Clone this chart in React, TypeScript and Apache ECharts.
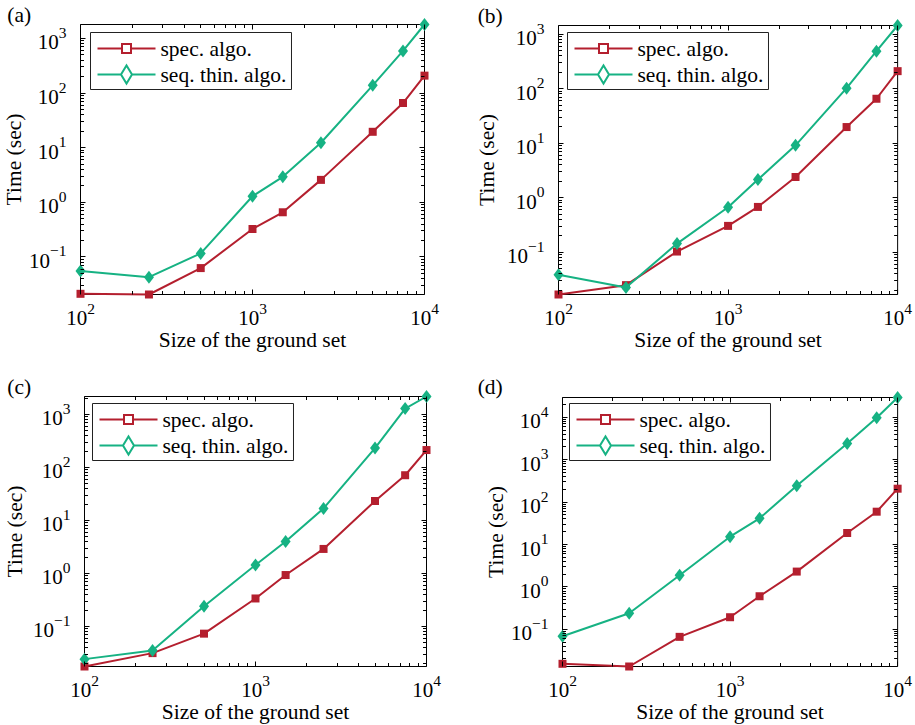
import React, { useEffect, useRef } from 'react';
import * as echarts from 'echarts';

// ---------- data ----------
const sizes = [100, 250, 500, 1000, 1500, 2500, 5000, 7500, 10000];

const specA = [0.0211, 0.0205, 0.0624, 0.324, 0.656, 2.57, 19.5, 65.6, 208];
const seqA = [0.055, 0.0426, 0.116, 1.29, 2.92, 12.3, 138, 590, 1795];

const specB = [0.0167, 0.0248, 0.1025, 0.303, 0.675, 2.39, 19.7, 65.1, 209];
const seqB = [0.0383, 0.0225, 0.1436, 0.665, 2.14, 9.1, 102, 486, 1437];

const specC = [0.0175, 0.0313, 0.0729, 0.336, 0.93, 2.89, 23.2, 71, 212];
const seqC = [0.0241, 0.0352, 0.24, 1.44, 3.98, 16.8, 231, 1285, 2170];

const specD = [0.0154, 0.0133, 0.0665, 0.193, 0.603, 2.3, 18.7, 59.4, 207];
const seqD = [0.0689, 0.24, 1.88, 15.3, 41.4, 243, 2415, 9710, 29240];

const panelLabels = ['(a)', '(b)', '(c)', '(d)'];
const seriesNames = ['spec. algo.', 'seq. thin. algo.'];
const xAxisName = 'Size of the ground set';
const yAxisName = 'Time (sec)';

// ---------- styling / layout ----------
const FONT = "'Liberation Serif', 'DejaVu Serif', serif";
const RED = '#b41f2e';
const GREEN = '#16b283';
const NAME_SIZE = 21.5;

const panels = [
  { spec: specA, seq: seqA, grid: { left: 80.5, top: 24.5, width: 344, height: 270 }, yGap: 55, legend: { left: 90.5, top: 32.5 }, label: [7.3, 15] },
  { spec: specB, seq: seqB, grid: { left: 558.5, top: 25.5, width: 342, height: 269 }, yGap: 61, legend: { left: 567.5, top: 32.5 }, label: [477.7, 15.5] },
  { spec: specC, seq: seqC, grid: { left: 84.5, top: 396.5, width: 342, height: 270 }, yGap: 59, legend: { left: 92.5, top: 403.5 }, label: [7.3, 386.5] },
  { spec: specD, seq: seqD, grid: { left: 562.5, top: 397.5, width: 341, height: 269 }, yGap: 54.6, legend: { left: 569.5, top: 403.5 }, label: [477.7, 386.5] },
];

const specIcon = 'path://M0,10L24.5,10M24.5,5.5L33.5,5.5L33.5,14.5L24.5,14.5ZM33.5,10L58,10';
const seqIcon = 'path://M0,10L23.5,10M23.5,10L29,1L34.5,10L29,19ZM34.5,10L58,10';

const powLabel = (v: number) => {
  const e = Math.round(Math.log10(v));
  if (Math.abs(v / Math.pow(10, e) - 1) > 1e-6) return '';
  return `{b|10}{s|${e < 0 ? '\u2212' + -e : e}}`;
};

const labelRich = {
  b: { fontSize: 21, lineHeight: 36, fontFamily: FONT, color: '#000', verticalAlign: 'middle' },
  s: { fontSize: 15.5, lineHeight: 14, fontFamily: FONT, color: '#000', verticalAlign: 'top' },
};

// tick positions (major = power of ten, minor = 2..9 x power of ten) within [lo, hi]
const logTickValues = (lo: number, hi: number) => {
  const vals: [number, boolean][] = [];
  for (let k = Math.floor(Math.log10(lo)); k <= Math.ceil(Math.log10(hi)); k++) {
    for (let m = 1; m <= 9; m++) {
      const v = m * Math.pow(10, k);
      if (v >= lo * (1 - 1e-9) && v <= hi * (1 + 1e-9)) vals.push([v, m === 1]);
    }
  }
  return vals;
};

const extents = panels.map((p) => ({
  xMin: Math.min(...sizes),
  xMax: Math.max(...sizes),
  yMin: Math.min(...p.spec, ...p.seq),
  yMax: Math.max(...p.spec, ...p.seq),
}));

function buildOption() {
  const grid: any[] = [];
  const xAxis: any[] = [];
  const yAxis: any[] = [];
  const series: any[] = [];
  const legend: any[] = [];

  panels.forEach((p, i) => {
    const { xMin, xMax, yMin, yMax } = extents[i];

    grid.push({ ...p.grid, show: true, borderColor: '#000', borderWidth: 1, backgroundColor: 'transparent' });

    xAxis.push({
      type: 'log', logBase: 10, gridIndex: i, min: xMin, max: xMax,
      name: xAxisName, nameLocation: 'middle', nameGap: 34,
      nameTextStyle: { fontSize: NAME_SIZE, fontFamily: FONT, color: '#000' },
      axisLine: { show: false }, axisTick: { show: false }, splitLine: { show: false },
      axisLabel: { formatter: powLabel, rich: labelRich, margin: 5.5, color: '#000' },
    });
    yAxis.push({
      type: 'log', logBase: 10, gridIndex: i, min: yMin, max: yMax,
      name: yAxisName, nameLocation: 'middle', nameGap: p.yGap,
      nameTextStyle: { fontSize: NAME_SIZE, fontFamily: FONT, color: '#000' },
      axisLine: { show: false }, axisTick: { show: false }, splitLine: { show: false },
      axisLabel: { formatter: powLabel, rich: labelRich, margin: 14, padding: [8, 0, 0, 0], color: '#000' },
    });

    series.push({
      type: 'line', name: seriesNames[0], xAxisIndex: i, yAxisIndex: i,
      data: sizes.map((s, j) => [s, p.spec[j]]),
      symbol: 'rect', symbolSize: 8, clip: false,
      lineStyle: { color: RED, width: 2 }, itemStyle: { color: RED }, z: 3,
    });
    series.push({
      type: 'line', name: seriesNames[1], xAxisIndex: i, yAxisIndex: i,
      data: sizes.map((s, j) => [s, p.seq[j]]),
      symbol: 'diamond', symbolSize: [10, 13], clip: false,
      lineStyle: { color: GREEN, width: 2 }, itemStyle: { color: GREEN }, z: 4,
    });

    legend.push({
      ...p.legend, orient: 'vertical', itemWidth: 58, itemHeight: 20, itemGap: 4,
      padding: [5, 5, 4, 6], borderColor: '#222', borderWidth: 1, backgroundColor: '#fff',
      symbolKeepAspect: true, selectedMode: false,
      textStyle: { fontSize: NAME_SIZE, fontFamily: FONT, color: '#000' },
      data: [
        { name: seriesNames[0], icon: specIcon, itemStyle: { color: '#fff', borderColor: RED, borderWidth: 2 } },
        { name: seriesNames[1], icon: seqIcon, itemStyle: { color: '#fff', borderColor: GREEN, borderWidth: 2 } },
      ],
    });
  });

  return {
    animation: false,
    backgroundColor: '#fff',
    textStyle: { fontFamily: FONT },
    grid, xAxis, yAxis, series, legend,
  };
}

// box ticks (inward, on all four sides), positioned through the chart's own axes
function buildTickGraphics(chart: any) {
  const els: any[] = [];
  const snap = (v: number) => Math.floor(v) + 0.5;
  panels.forEach((p, i) => {
    const { xMin, xMax, yMin, yMax } = extents[i];
    const finder = { gridIndex: i };
    const [left, bottom] = chart.convertToPixel(finder, [xMin, yMin]);
    const [right, top] = chart.convertToPixel(finder, [xMax, yMax]);
    logTickValues(xMin, xMax).forEach(([v, major]) => {
      const x = snap(chart.convertToPixel(finder, [v, yMin])[0]);
      const len = major ? 5 : 3.5;
      els.push({ type: 'line', silent: true, z: 5, shape: { x1: x, y1: bottom, x2: x, y2: bottom - len }, style: { stroke: '#000', lineWidth: 1 } });
      els.push({ type: 'line', silent: true, z: 5, shape: { x1: x, y1: top, x2: x, y2: top + len }, style: { stroke: '#000', lineWidth: 1 } });
    });
    logTickValues(yMin, yMax).forEach(([v, major]) => {
      const y = snap(chart.convertToPixel(finder, [xMin, v])[1]);
      const len = major ? 5 : 3.5;
      els.push({ type: 'line', silent: true, z: 5, shape: { x1: left, y1: y, x2: left + len, y2: y }, style: { stroke: '#000', lineWidth: 1 } });
      els.push({ type: 'line', silent: true, z: 5, shape: { x1: right, y1: y, x2: right - len, y2: y }, style: { stroke: '#000', lineWidth: 1 } });
    });
    els.push({
      type: 'text', x: p.label[0], y: p.label[1], silent: true,
      style: { text: panelLabels[i], fontSize: NAME_SIZE, fontFamily: FONT, fill: '#000', verticalAlign: 'middle' },
    });
  });
  return els;
}

export default function App() {
  const ref = useRef<HTMLDivElement>(null);
  useEffect(() => {
    if (!ref.current) return;
    const chart = echarts.init(ref.current, undefined, { renderer: 'svg' });
    chart.setOption(buildOption() as any);
    chart.setOption({ graphic: buildTickGraphics(chart) } as any);
    return () => chart.dispose();
  }, []);
  return <div ref={ref} style={{ position: 'absolute', left: 0, top: 0, width: 915, height: 725 }} />;
}
